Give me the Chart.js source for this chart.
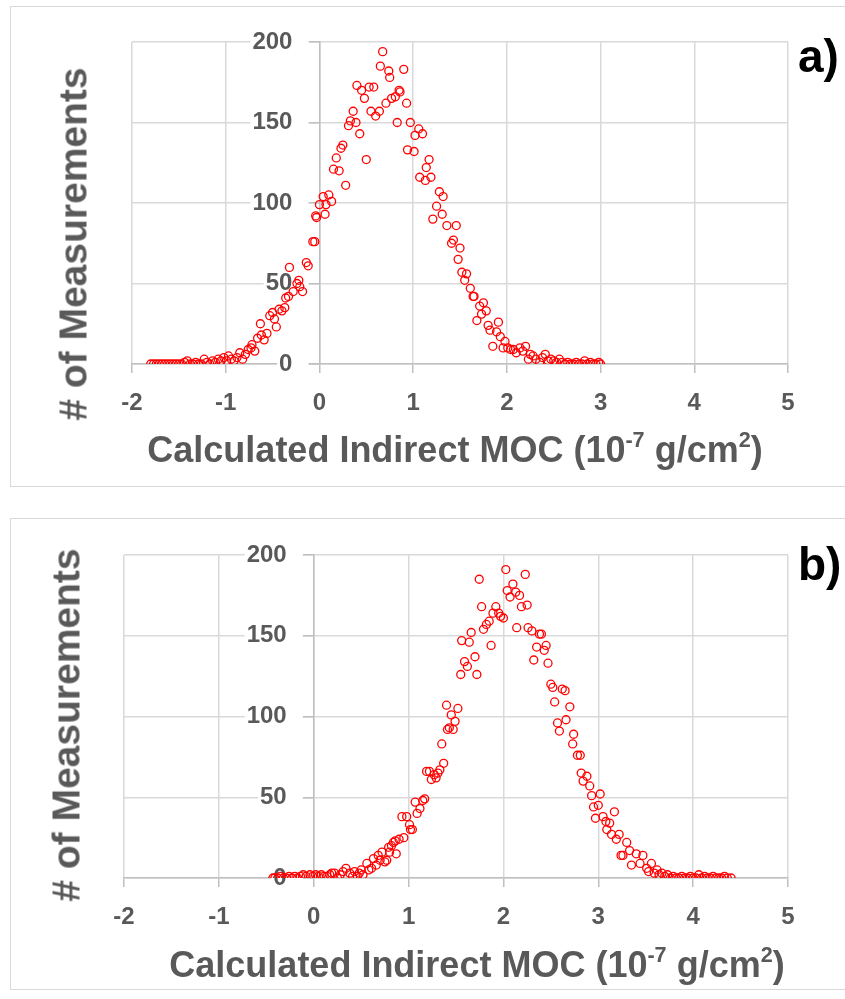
<!DOCTYPE html>
<html><head><meta charset="utf-8">
<script src="https://cdn.jsdelivr.net/npm/chart.js@4.4.1/dist/chart.umd.min.js"></script>
<style>
html,body{margin:0;padding:0;background:#fff}
body{position:relative;width:845px;height:999px;overflow:hidden;font-family:"Liberation Sans",Arial,sans-serif}
.frame{position:absolute;border:1.5px solid #d9d9d9;box-sizing:border-box}
.cv{position:absolute;left:0}
.ytitle{position:absolute;font-weight:bold;font-size:39px;color:#595959;white-space:nowrap;transform:translate(-50%,-50%) rotate(-90deg);line-height:1}
.xtitle{position:absolute;font-weight:bold;font-size:36px;color:#595959;white-space:nowrap;transform:translate(-50%,-50%);line-height:1}
.xtitle sup{font-size:0.6em;vertical-align:0.7em;line-height:0}
.tag{position:absolute;font-weight:bold;font-size:46px;color:#000;line-height:1}
</style>
</head><body>
<div class="frame" style="left:10px;top:6px;width:850px;height:481px"></div>
<div class="frame" style="left:10px;top:518px;width:850px;height:472px"></div>
<canvas id="chartA" class="cv" width="845" height="490" style="top:0"></canvas>
<canvas id="chartB" class="cv" width="845" height="509" style="top:490px"></canvas>
<div class="ytitle" style="left:73px;top:244px"># of Measurements</div>
<div class="xtitle" style="left:455px;top:450px">Calculated Indirect MOC (10<sup>-7</sup> g/cm<sup>2</sup>)</div>
<div class="ytitle" style="left:66px;top:725px"># of Measurements</div>
<div class="xtitle" style="left:477px;top:965px">Calculated Indirect MOC (10<sup>-7</sup> g/cm<sup>2</sup>)</div>
<div class="tag" style="left:798px;top:33px">a)</div>
<div class="tag" style="left:798px;top:541px">b)</div>
<script>
// ---- tick labels ----
const xTickValues = [-2, -1, 0, 1, 2, 3, 4, 5];
const xTickLabels = ['-2', '-1', '0', '1', '2', '3', '4', '5'];
const yTickValues = [0, 50, 100, 150, 200];
const yTickLabels = ['0', '50', '100', '150', '200'];

// ---- panel a) ----
const xA = [-1.80,-1.77,-1.74,-1.71,-1.68,-1.65,-1.62,-1.59,-1.56,-1.53,-1.50,-1.47,-1.44,-1.41,-1.38,-1.35,-1.32,-1.29,-1.26,-1.23,-1.20,-1.17,-1.14,-1.11,-1.08,-1.05,-1.02,
 -0.99,-0.97,-0.94,-0.91,-0.88,-0.85,-0.82,-0.79,-0.76,-0.73,-0.72,-0.69,-0.66,-0.63,-0.62,-0.59,-0.56,-0.53,-0.50,-0.48,-0.46,-0.43,-0.40,-0.37,-0.36,-0.33,-0.32,-0.28,-0.24,-0.22,-0.21,-0.18,-0.14,-0.12,-0.07,-0.05,-0.03,
 -0.04,0.00,0.04,0.06,0.07,0.10,0.13,0.15,0.18,0.21,0.23,0.25,0.28,0.31,0.33,0.36,0.39,0.40,0.43,0.45,0.48,0.50,0.53,0.55,0.58,0.60,0.64,0.65,0.675,0.71,0.74,0.75,0.77,0.81,0.83,0.85,0.86,0.90,0.93,0.94,0.97,1.01,1.02,1.06,1.07,1.10,1.13,1.14,1.17,1.19,1.21,1.25,1.28,1.31,1.32,1.36,1.41,1.43,1.46,1.48,1.50,1.52,1.55,1.57,1.61,1.64,1.65,1.68,1.71,1.73,1.75,1.78,1.80,1.82,1.85,1.89,1.91,1.93,1.96,1.98,2.01,2.04,2.07,2.10,2.14,2.17,2.20,2.23,2.25,2.28,2.31,2.35,2.38,2.41,2.44,2.47,2.50,2.53,2.56,2.59,2.62,2.65,2.68,2.71,2.74,2.77,2.80,2.83,2.86,2.89,2.92,2.95,2.98,3.00];
const yA = [0,0,0,0,0,0,0,0,0,0,0,0,1,2,0,0,1,0,0,3,1,0,2,1,3,2,4,
 2,5,3,2,4,7,3,6,9,10,12,8,16,25,18,15,19,30,32,28,23,34,33,35,41,42,60,45,50,52,48,45,63,61,76,76,91,
 92,99,104,93,99,105,101,121,128,120,134,136,111,148,151,157,150,173,143,170,165,127,172,157,172,154,157,185,194,162,182,178,165,166,150,170,169,183,162,133,150,132,142,146,116,143,114,122,127,116,90,98,107,93,104,86,75,77,86,65,72,57,52,56,47,42,42,27,36,31,38,33,24,21,11,20,26,17,10,14,10,9,9,7,10,8,11,3,6,5,3,1,4,6,2,3,2,1,3,1,0,1,0,0,1,0,0,2,0,1,0,0,1,0];

// ---- panel b) ----
const xB = [-0.43,-0.41,-0.38,-0.35,-0.32,-0.29,-0.26,-0.23,-0.20,-0.17,-0.14,-0.11,-0.08,-0.04,-0.01,0.02,0.05,0.08,0.11,0.14,0.17,0.19,0.22,0.25,0.28,0.31,0.34,0.38,0.41,0.43,0.46,0.48,0.50,0.52,0.56,0.58,0.61,0.63,0.66,0.68,0.70,0.72,0.75,0.77,0.79,0.80,0.82,0.84,0.86,0.87,0.90,0.93,0.95,0.98,1.01,1.02,1.04,1.07,1.09,1.12,1.15,1.17,1.19,1.22,1.24,1.27,1.29,1.31,1.33,1.35,1.37,1.40,1.41,1.43,1.45,1.47,1.49,1.52,1.55,1.56,1.59,1.62,1.64,1.66,1.70,1.72,1.745,1.77,1.79,1.82,1.85,1.87,1.89,1.92,1.95,1.97,2.00,2.025,2.04,2.07,2.10,2.13,2.14,2.17,2.19,2.23,2.25,2.26,2.30,2.32,2.35,2.38,2.40,2.43,2.45,2.47,2.50,2.52,2.54,2.57,2.59,2.62,2.65,2.66,2.70,2.73,2.74,2.78,2.81,2.82,2.84,2.88,2.91,2.93,2.95,2.97,3.00,3.02,3.05,3.08,3.09,3.12,3.14,3.17,3.19,3.22,3.24,3.26,3.30,3.33,3.35,3.40,3.44,3.47,3.51,3.53,3.56,3.59,3.62,3.64,3.67,3.70,3.73,3.76,3.79,3.82,3.85,3.88,3.91,3.94,3.97,4.00,4.03,4.06,4.09,4.12,4.15,4.18,4.21,4.24,4.27,4.30,4.33,4.36,4.40];
const yB = [0,0,0,1,0,0,1,0,1,0,1,2,1,2,1,2,1,2,1,1,2,3,3,0,2,4,6,3,1,4,1,3,5,2,9,5,6,12,8,14,11,16,10,11,19,16,20,22,23,15,24,38,25,38,33,30,30,47,40,43,48,49,66,66,61,64,62,65,67,83,71,107,92,93,101,92,97,105,126,147,134,131,146,152,137,126,185,168,154,157,159,144,164,168,164,162,161,191,178,174,182,177,155,175,168,188,169,155,153,135,143,151,151,141,144,133,120,118,109,96,91,117,116,98,106,83,89,76,76,65,60,63,57,51,44,37,45,52,38,35,30,34,27,41,24,27,14,14,22,17,8,15,9,14,6,4,9,3,5,2,3,1,2,0,1,0,0,1,0,0,1,0,0,2,0,1,0,0,1,0,0,0,1,0,0];

const GRAY_TXT = '#595959';
const tickFont = {family: '"Liberation Sans", Arial, sans-serif', size: 24, weight: 'bold'};

// y labels sit to the left of the axis drawn at x = 0, clear of its tick marks
const yLabelGap = {
  id: 'yLabelGap',
  beforeDraw(chart) {
    const s = chart.scales.y;
    s.getLabelItems().forEach((it) => {
      if (!it._moved) { it.options.translation[0] -= 27; it._moved = true; }
    });
  }
};

function makeChart(id, xs, ys, pad) {
  const pts = xs.map((x, i) => ({x: x, y: ys[i]}));
  return new Chart(document.getElementById(id), {
    type: 'scatter',
    data: {datasets: [{
      data: pts,
      showLine: false,
      pointStyle: 'circle',
      pointRadius: 4,
      pointHoverRadius: 4,
      borderColor: '#ff0000',
      backgroundColor: 'rgba(255,255,255,0)',
      borderWidth: 1.3
    }]},
    plugins: [yLabelGap],
    options: {
      responsive: false,
      animation: false,
      events: [],
      layout: {padding: pad},
      plugins: {legend: {display: false}, tooltip: {enabled: false}, title: {display: false}},
      scales: {
        x: {
          type: 'linear', position: 'bottom', min: -2, max: 5,
          afterFit: (s) => { s.height = 60; },
          afterBuildTicks: (s) => { s.ticks = xTickValues.map(v => ({value: v})); },
          ticks: {padding: 16, color: GRAY_TXT, font: tickFont, maxRotation: 0,
            callback: (v) => { const i = xTickValues.indexOf(v); return i < 0 ? '' : xTickLabels[i]; }},
          grid: {color: '#d9d9d9', lineWidth: 1.5, tickLength: 9, tickColor: '#bfbfbf', drawTicks: true},
          border: {display: true, color: '#bfbfbf', width: 1.5}
        },
        y: {
          type: 'linear', position: {x: 0}, min: 0, max: 200,
          afterBuildTicks: (s) => { s.ticks = yTickValues.map(v => ({value: v})); },
          ticks: {padding: 0, color: GRAY_TXT, font: tickFont,
            showLabelBackdrop: true, backdropColor: '#ffffff',
            backdropPadding: {left: 2, right: 16, top: 0, bottom: 0},
            callback: (v) => { const i = yTickValues.indexOf(v); return i < 0 ? '' : yTickLabels[i]; }},
          grid: {color: '#d9d9d9', lineWidth: 1.5, tickLength: 10, tickColor: '#bfbfbf', drawTicks: true},
          border: {display: true, color: '#bfbfbf', width: 1.5}
        }
      }
    }
  });
}

makeChart('chartA', xA, yA, {left: 132, right: 57, top: 42, bottom: 66});
makeChart('chartB', xB, yB, {left: 124, right: 57, top: 65, bottom: 61});
</script>
</body></html>
